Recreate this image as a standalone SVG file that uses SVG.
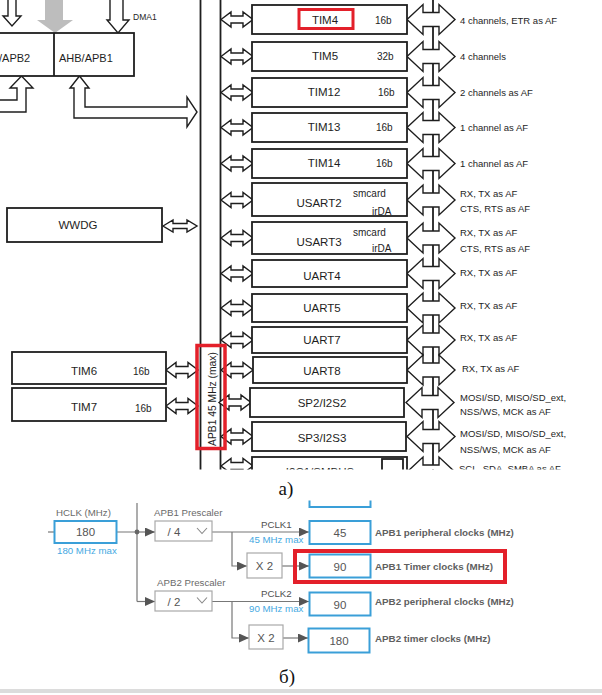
<svg xmlns="http://www.w3.org/2000/svg" width="602" height="695" viewBox="0 0 602 695">
<style>
  text { font-family: "Liberation Sans", Arial, sans-serif; }
  .box { fill: #fff; stroke: #1e1e1e; stroke-width: 1.8; }
  .ttl { font-size: 11.5px; fill: #1e1e1e; text-anchor: middle; }
  .sub { font-size: 10px; fill: #1e1e1e; }
  .af { font-size: 9.5px; fill: #1e1e1e; }
  .harr { fill: #fff; stroke: #1e1e1e; stroke-width: 1.4; stroke-linejoin: miter; }
  .bus { stroke: #1e1e1e; stroke-width: 1.8; fill: none; }
  .hl { fill: none; stroke: #e3202a; }
  .cap { font-family: "Liberation Serif", "Times New Roman", serif; font-size: 19px; fill: #111; text-anchor: middle; }
  .cb { fill: #fff; stroke: #3a9fd8; stroke-width: 2; }
  .pb { fill: #fff; stroke: #a9a9a9; stroke-width: 1.2; }
  .val { font-size: 11.5px; fill: #555; text-anchor: middle; }
  .lbl { font-size: 9.7px; fill: #6a6a6a; }
  .pclk { font-size: 9.7px; fill: #505050; }
  .blue { font-size: 9.7px; fill: #45a9e2; }
  .out { font-size: 9.8px; font-weight: bold; fill: #5f5f5f; }
  .wire { stroke: #777; stroke-width: 1.2; fill: none; }
  .chev { stroke: #888; stroke-width: 1.1; fill: none; }
</style>
<defs>
  <!-- bus-side double arrow, 32 long -->
  <path id="dbl" d="M0,0 L10,-7.5 V-3.5 H22 V-7.5 L32,0 L22,7.5 V3.5 H10 V7.5 Z"/>
  <!-- pin-side double arrow, 48 long -->
  <path id="dblB" d="M0,0 L16,-15 V-7 H32 V-15 L48,0 L32,15 V7 H16 V15 Z"/>
  <!-- thin double arrow for WWDG -->
  <path id="dblS" d="M0,0 L10,-6 V-2.5 H24 V-6 L34,0 L24,6 V2.5 H10 V6 Z"/>
  <marker id="tri" viewBox="0 0 10 9" refX="10" refY="4.5" markerWidth="10" markerHeight="9" markerUnits="userSpaceOnUse" orient="auto">
    <path d="M0,0 L10,4.5 L0,9 Z" fill="#555"/>
  </marker>
  <clipPath id="clipA"><rect x="0" y="0" width="602" height="469.5"/></clipPath>
</defs>

<!-- ===== a) APB1 block diagram ===== -->
<g id="partA" clip-path="url(#clipA)">
  <g id="connectors-a">
    <!-- buses -->
    <path class="bus" d="M200.5,0 V470 M220.5,0 V470"/>
    <path class="bus" d="M433,0 V480" stroke-width="2"/>
    <!-- top feeds -->
    <path class="harr" d="M8,-2 V16 H3 L12,26 L21,16 H16 V-2 Z"/>
    <polygon points="45,-1 63,-1 63,20 73,20 55,33 37,20 45,20" fill="#bdbdbd"/>
    <path class="harr" d="M110,-2 V20 H107 L118,33 L129,20 H123 V-2 Z"/>
    <path class="harr" d="M-2,100 H17 V88 H10 L21.5,76 L33,88 H26 V112 H-2 Z"/>
    <path class="harr" d="M79.5,76 L89,88 H85 V107 H187 V97 L197,112 L187,127 V118 H74 V88 H70 Z"/>
    <!-- left peripherals to APB1 -->
    <use href="#dblS" x="163" y="226" class="harr" stroke-width="1"/>
    <use href="#dbl" x="166" y="370" class="harr"/>
    <use href="#dbl" x="166" y="406" class="harr"/>
    <!-- APB1 to right peripherals -->
    <use href="#dbl" x="221" y="19.5" class="harr"/>
    <use href="#dbl" x="221" y="56.5" class="harr"/>
    <use href="#dbl" x="221" y="92.5" class="harr"/>
    <use href="#dbl" x="221" y="127.5" class="harr"/>
    <use href="#dbl" x="221" y="163.5" class="harr"/>
    <use href="#dbl" x="221" y="200" class="harr"/>
    <use href="#dbl" x="221" y="238" class="harr"/>
    <use href="#dbl" x="221" y="273.5" class="harr"/>
    <use href="#dbl" x="221" y="308" class="harr"/>
    <use href="#dbl" x="221" y="340" class="harr"/>
    <use href="#dbl" x="221" y="370" class="harr"/>
    <use href="#dbl" x="219" y="402.5" class="harr"/>
    <use href="#dbl" x="221" y="436.5" class="harr"/>
    <use href="#dbl" x="221" y="466" class="harr"/>
    <!-- peripherals to pins -->
    <use href="#dblB" x="407" y="19.5" class="harr"/>
    <use href="#dblB" x="407" y="56.5" class="harr"/>
    <use href="#dblB" x="407" y="92.5" class="harr"/>
    <use href="#dblB" x="407" y="127.5" class="harr"/>
    <use href="#dblB" x="407" y="163.5" class="harr"/>
    <use href="#dblB" x="407" y="200" class="harr"/>
    <use href="#dblB" x="407" y="238" class="harr"/>
    <use href="#dblB" x="407" y="273.5" class="harr"/>
    <use href="#dblB" x="407" y="308" class="harr"/>
    <use href="#dblB" x="407" y="340" class="harr"/>
    <use href="#dblB" x="407" y="370" class="harr"/>
    <use href="#dblB" x="406" y="402.5" class="harr"/>
    <use href="#dblB" x="407" y="436.5" class="harr"/>
    <use href="#dblB" x="407" y="472" class="harr"/>
  </g>

  <g id="ahb-apb-bridges">
    <rect class="box" x="-2" y="33" width="136" height="43"/>
    <line x1="54" y1="33" x2="54" y2="76" stroke="#1e1e1e" stroke-width="1.8"/>
    <text x="-1" y="61.5" font-size="11" fill="#1e1e1e">/APB2</text>
    <text x="59" y="61.5" font-size="11" fill="#1e1e1e">AHB/APB1</text>
    <text x="133" y="20" font-size="8.5" fill="#1e1e1e">DMA1</text>
  </g>

  <g id="wwdg"><rect class="box" x="7" y="208" width="155" height="34"/><text class="ttl" x="78" y="228.5">WWDG</text></g>
  <g id="tim6"><rect class="box" x="12" y="352" width="154" height="32"/><text class="ttl" x="84" y="375">TIM6</text><text class="sub" x="133" y="374.5">16b</text></g>
  <g id="tim7"><rect class="box" x="12" y="388" width="154" height="33"/><text class="ttl" x="84" y="411">TIM7</text><text class="sub" x="135" y="411.5">16b</text></g>

  <g id="apb1-label">
    <rect class="hl" x="197" y="345.5" width="28" height="103" stroke-width="3.5"/>
    <text transform="translate(216,399) rotate(-90)" font-size="10.3" fill="#1e1e1e" text-anchor="middle">APB1 45 MHz (max)</text>
  </g>

  <g id="tim4"><rect class="box" x="252" y="5" width="155" height="29"/><text class="ttl" x="325" y="24">TIM4</text><text class="sub" x="375" y="23.5">16b</text><text class="af" x="460" y="23.5">4 channels, ETR as AF</text>
    <rect class="hl" x="299" y="9.5" width="54" height="19" stroke-width="3"/></g>
  <g id="tim5"><rect class="box" x="252" y="42" width="155" height="29"/><text class="ttl" x="325" y="60">TIM5</text><text class="sub" x="377" y="60">32b</text><text class="af" x="460" y="60">4 channels</text></g>
  <g id="tim12"><rect class="box" x="252" y="78" width="155" height="29"/><text class="ttl" x="324" y="96">TIM12</text><text class="sub" x="378" y="96">16b</text><text class="af" x="460" y="96">2 channels as AF</text></g>
  <g id="tim13"><rect class="box" x="252" y="113" width="155" height="29"/><text class="ttl" x="324" y="131">TIM13</text><text class="sub" x="376" y="131">16b</text><text class="af" x="460" y="131">1 channel as AF</text></g>
  <g id="tim14"><rect class="box" x="252" y="149" width="155" height="29"/><text class="ttl" x="324" y="167">TIM14</text><text class="sub" x="376" y="167">16b</text><text class="af" x="460" y="167">1 channel as AF</text></g>
  <g id="usart2"><rect class="box" x="252" y="183" width="155" height="33"/><text class="ttl" x="319" y="207">USART2</text><text class="sub" x="353" y="196.5">smcard</text><text class="sub" x="372" y="214.5">irDA</text>
    <text class="af" x="460" y="196.5">RX, TX as AF</text><text class="af" x="460" y="211.5">CTS, RTS as AF</text></g>
  <g id="usart3"><rect class="box" x="252" y="222" width="155" height="32"/><text class="ttl" x="319" y="246">USART3</text><text class="sub" x="353" y="235.5">smcard</text><text class="sub" x="372" y="251.5">irDA</text>
    <text class="af" x="460" y="235.5">RX, TX as AF</text><text class="af" x="460" y="251.5">CTS, RTS as AF</text></g>
  <g id="uart4"><rect class="box" x="252" y="260" width="155" height="27"/><text class="ttl" x="322" y="280">UART4</text><text class="af" x="460" y="275.5">RX, TX as AF</text></g>
  <g id="uart5"><rect class="box" x="252" y="294" width="155" height="28"/><text class="ttl" x="322" y="312">UART5</text><text class="af" x="460" y="308.5">RX, TX as AF</text></g>
  <g id="uart7"><rect class="box" x="252" y="327" width="155" height="26"/><text class="ttl" x="322" y="343.5">UART7</text><text class="af" x="460" y="340.5">RX, TX as AF</text></g>
  <g id="uart8"><rect class="box" x="253" y="357" width="154" height="26"/><text class="ttl" x="322" y="375">UART8</text><text class="af" x="462" y="371.5">RX, TX as AF</text></g>
  <g id="spi2"><rect class="box" x="250" y="388" width="154" height="29"/><text class="ttl" x="322" y="407">SP2/I2S2</text>
    <text class="af" x="460" y="400.5">MOSI/SD, MISO/SD_ext,</text><text class="af" x="460" y="414.5">NSS/WS, MCK as AF</text></g>
  <g id="spi3"><rect class="box" x="252" y="422" width="154" height="29"/><text class="ttl" x="322" y="442">SP3/I2S3</text>
    <text class="af" x="460" y="436.5">MOSI/SD, MISO/SD_ext,</text><text class="af" x="460" y="452.5">NSS/WS, MCK as AF</text></g>
  <g id="i2c1"><rect class="box" x="252" y="457" width="155" height="40"/><rect class="box" x="382" y="459" width="21" height="30" stroke-width="2"/>
    <text class="ttl" x="320" y="476">I2C1/SMBUS</text><text class="af" x="459" y="472">SCL, SDA, SMBA as AF</text></g>
</g>
<text class="cap" x="286" y="495">а)</text>

<!-- ===== б) clock tree ===== -->
<g id="connectors-b">
  <path class="wire" d="M48,532 H54"/>
  <path class="wire" d="M117,532 H137 M137,503 V601.5"/>
  <path class="wire" d="M137,532 H155" marker-end="url(#tri)"/>
  <path class="wire" d="M137,601.5 H155" marker-end="url(#tri)"/>
  <path class="wire" d="M212,532 H309" marker-end="url(#tri)"/>
  <path class="wire" d="M232,532 V566 H247" marker-end="url(#tri)"/>
  <path class="wire" d="M282,566 H309" marker-end="url(#tri)"/>
  <path class="wire" d="M212,601.5 H309" marker-end="url(#tri)"/>
  <path class="wire" d="M232,601.5 V638 H249" marker-end="url(#tri)"/>
  <path class="wire" d="M283,638 H308" marker-end="url(#tri)"/>
  <circle cx="137" cy="532" r="2.4" fill="#666"/>
</g>
<g id="upper-clock"><path d="M309.5,500.5 V507 H370.5 V500.5" fill="none" stroke="#3a9fd8" stroke-width="2"/></g>
<g id="hclk">
  <text class="lbl" x="56" y="515.5">HCLK (MHz)</text>
  <rect class="cb" x="54.5" y="521" width="62" height="22"/>
  <text class="val" x="85.5" y="536">180</text>
  <text class="blue" x="57" y="553.5">180 MHz max</text>
</g>
<g id="apb1-prescaler">
  <text class="lbl" x="154" y="515.5">APB1 Prescaler</text>
  <rect class="pb" x="155" y="521" width="57" height="20"/>
  <text class="val" x="174" y="536">/ 4</text>
  <polyline class="chev" points="197,528 202,533.5 207,528"/>
</g>
<g id="apb2-prescaler">
  <text class="lbl" x="157" y="585.5">APB2 Prescaler</text>
  <rect class="pb" x="155" y="591" width="57" height="20"/>
  <text class="val" x="174" y="605.5">/ 2</text>
  <polyline class="chev" points="197,597.5 202,603 207,597.5"/>
</g>
<g id="pclk-labels">
  <text class="pclk" x="261" y="527.5">PCLK1</text>
  <text class="blue" x="249" y="542.5">45 MHz max</text>
  <text class="pclk" x="261" y="596.5">PCLK2</text>
  <text class="blue" x="249" y="611.5">90 MHz max</text>
</g>
<g id="x2-apb1"><rect class="pb" x="247" y="553" width="35" height="25"/><text class="val" x="264.5" y="570">X 2</text></g>
<g id="x2-apb2"><rect class="pb" x="249" y="625" width="34" height="24"/><text class="val" x="266" y="642">X 2</text></g>
<g id="apb1-periph"><rect class="cb" x="309.5" y="521" width="61" height="23"/><text class="val" x="340" y="536.5">45</text><text class="out" x="375" y="535.5">APB1 peripheral clocks (MHz)</text></g>
<g id="apb1-timer"><rect class="cb" x="309.5" y="554.5" width="61" height="23"/><text class="val" x="340" y="570.5">90</text><text class="out" x="375" y="569.5">APB1 Timer clocks (MHz)</text>
  <rect class="hl" x="295" y="551" width="210" height="31" stroke-width="4"/></g>
<g id="apb2-periph"><rect class="cb" x="309.5" y="592.5" width="61" height="23"/><text class="val" x="340" y="608.5">90</text><text class="out" x="375" y="605">APB2 peripheral clocks (MHz)</text></g>
<g id="apb2-timer"><rect class="cb" x="308.5" y="628.5" width="61" height="24"/><text class="val" x="339" y="644.5">180</text><text class="out" x="375" y="641.5">APB2 timer clocks (MHz)</text></g>
<text class="cap" x="287" y="683">б)</text>
<rect x="0" y="689" width="602" height="4" fill="#dcdcdc"/>
</svg>
